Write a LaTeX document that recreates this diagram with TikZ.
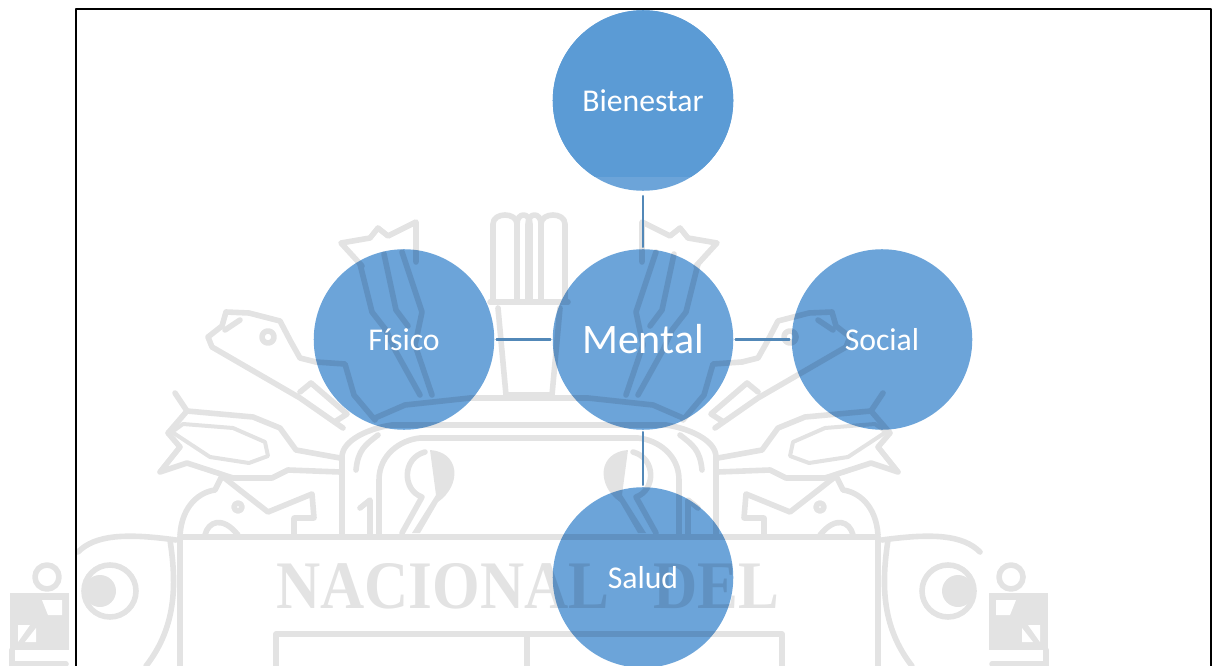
\documentclass[tikz,border=0pt]{standalone}
\usepackage{fontspec}
\setmainfont{Carlito}
\newfontfamily\crestfont[FakeStretch=0.9]{Liberation Serif}
\usepackage{tikz}
\definecolor{wmgray}{HTML}{E3E3E3}
\definecolor{bubbleblue}{HTML}{6CA4D9}
\definecolor{topblue}{HTML}{5B9BD5}
\definecolor{linkblue}{HTML}{5288B8}
\tikzset{
  wmline/.style={draw=wmgray, line width=4.2pt},
  wmfill/.style={fill=wmgray, draw=none},
  wmtext/.style={wmgray, inner sep=0pt, anchor=base west, font=\crestfont\bfseries\fontsize{51}{51}\selectfont},
  bubbleback/.style={fill=bubbleblue, blend mode=multiply},
  bubble/.style={circle, minimum size=135.4pt, inner sep=0pt, text=white, font=\fontsize{23.8}{28}\selectfont},
  link/.style={draw=linkblue, line width=2pt, shorten <=1.6pt, shorten >=1.6pt}
}
% Media parte del escudo (se repite en espejo)
\newcommand{\crestside}{%
  % columnas
  \draw[wmline] (493,302) -- (493,224) .. controls (493,212) and (517,212) .. (517,224) -- (517,302);
  \draw[wmline] (517,224) .. controls (517,212) and (530,212) .. (530,224) -- (530,302);
  \draw[wmline] (490,302) -- (530,302);
  \draw[wmline] (498,308) -- (506,395) -- (530,395);
  % corona
  \draw[wmline] (362,266) -- (341,243) -- (370,238) -- (378,228) -- (388,236) -- (416,222) -- (416,262);
  % cuello y cabeza del ave
  \draw[wmline] (316,362) -- (300,358) -- (291,342) -- (280,321) -- (249,313) -- (226,312) -- (222,326) -- (208,337) -- (212,347) -- (300,398) -- (343,428);
  \draw[wmline] (300,392) -- (311,383) -- (347,414) -- (336,421);
  \draw[wmline] (268,337) circle (4.5pt);
  \draw[wmline] (225,330) -- (240,320);
  % cuello dentro del circulo
  \draw[wmline] (360,264) -- (372,312) -- (386,330) -- (395,350) -- (420,395);
  \draw[wmline] (384,254) -- (396,310) -- (408,326);
  \draw[wmline] (402,252) -- (422,312) -- (415,345) -- (432,395);
  \draw[wmline] (316,362) -- (345,364) -- (354,395) -- (375,420);
  \draw[wmline] (375,418) -- (405,405) -- (470,398) -- (530,398);
  % plumas
  \draw[wmline] (175,393) -- (187,411) -- (253,417) -- (280,428) -- (296,450) -- (340,458);
  \draw[wmline] (187,411) -- (168,433) -- (180,447) -- (160,472) -- (187,463) -- (233,478) -- (272,478) -- (288,470) -- (340,472);
  \draw[wmline, line width=3pt] (172,432) -- (183,424) -- (233,428) -- (265,442) -- (268,456) -- (249,463) -- (210,457) -- cycle;
  % arcos
  \draw[wmline] (342,535) -- (342,457) .. controls (342,440) and (370,428) .. (392,425) -- (530,425);
  \draw[wmline] (356,470) .. controls (358,450) and (365,445) .. (378,435);
  \draw[wmline] (370,535) -- (370,500) -- (360,508);
  \draw[wmline] (379,535) -- (379,480) .. controls (379,455) and (400,440) .. (420,438) -- (530,438);
  % cuchara
  \draw[wmline] (425,452) .. controls (402,458) and (402,490) .. (422,497) -- (402,533);
  \fill[wmfill] (430,450) .. controls (460,452) and (462,485) .. (438,502) -- (420,533) -- (412,533) -- (436,495) -- cycle;
  % cabeza inferior
  \draw[wmline] (180,535) .. controls (182,505) and (200,492) .. (215,490) -- (222,476) -- (241,491) -- (268,512) -- (312,494) -- (314,518) -- (294,518) -- (294,535);
  \draw[wmline] (238,507) circle (3pt);
  \draw[wmline] (205,535) .. controls (208,522) and (222,515) .. (238,535);
  % marco del rotulo
  \draw[wmline] (180,666) -- (180,537) -- (530,537);
  \draw[wmline] (276,666) -- (276,634) -- (530,634);
  % ojo grande
  \draw[wmline] (78,552) .. controls (95,535) and (125,533) .. (176,540);
  \draw[wmline] (170,540) .. controls (176,580) and (178,625) .. (146,666);
  \draw[wmline] (110,591) circle (19.5pt);
  \fill[wmfill] (100,591) circle (12pt);
  % sello
  \draw[wmline] (47,577) circle (9pt);
  \fill[wmfill] (10,593) rectangle (69,650);
  \fill[white] (42,600) -- (62,600) -- (62,615) -- (48,615) -- cycle;
  \fill[white] (18,625) -- (30,625) -- (18,642) -- cycle;
  \fill[white] (25,642) -- (36,628) -- (36,642) -- cycle;
  \draw[wmline] (12,650) -- (12,666);
  \draw[wmline] (12,664) -- (66,664);
}
\begin{document}
\begin{tikzpicture}[x=0.75pt, y=-0.75pt, line cap=round, line join=round]
  \useasboundingbox (0,0) rectangle (1216,666);

  % Escudo de fondo
  \begin{scope}
    \crestside
  \end{scope}
  \begin{scope}[shift={(1058,0)}, xscale=-1]
    \crestside
  \end{scope}
  \draw[wmline] (527,634) -- (527,666);
  \node[wmtext] (crestA) at (276,608) {NACIONAL};
  \node[wmtext] (crestB) at (653,608) {DEL};

  % Marco
  \draw[black, line width=1.2pt] (76,666) |- (1211,9) -- (1211,666);

  % Circulos
  \foreach \cx/\cy in {404/339.5, 643/339.5, 882/339.5, 643/577.5, 643/100.5}{
    \fill[bubbleback] (\cx,\cy) circle (67.7pt);
  }
  \begin{scope}
    \clip (540,0) rectangle (750,177);
    \fill[topblue] (643,100.5) circle (67.7pt);
  \end{scope}

  % Textos
  \node[bubble] (bienestar) at (643,100.5) {Bienestar};
  \node[bubble, font=\fontsize{31.5}{36}\selectfont] (mental) at (643,339.5) {Mental};
  \node[bubble] (fisico) at (404,339.5) {Físico};
  \node[bubble] (social) at (882,339.5) {Social};
  \node[bubble] (salud) at (643,577.5) {Salud};

  % Conectores
  \draw[link, shorten <=3.8pt] (bienestar) -- (mental);
  \draw[link] (mental) -- (fisico);
  \draw[link] (mental) -- (social);
  \draw[link] (mental) -- (salud);
\end{tikzpicture}
\end{document}
